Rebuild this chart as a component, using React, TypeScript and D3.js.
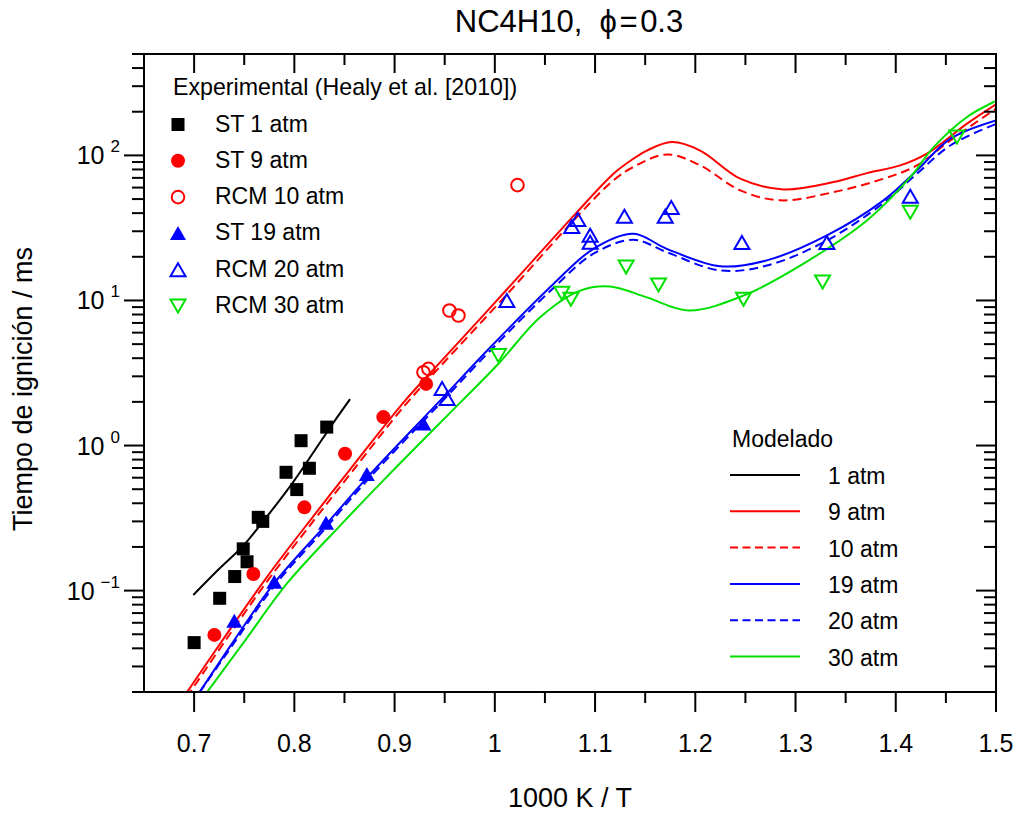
import React from 'react';
import * as d3 from 'd3';

// ---------- DATA ----------
const xTicks = [0.7, 0.8, 0.9, 1, 1.1, 1.2, 1.3, 1.4, 1.5];
const xTickLabels = ['0.7', '0.8', '0.9', '1', '1.1', '1.2', '1.3', '1.4', '1.5'];
const xMinorTicks = [0.75, 0.85, 0.95, 1.05, 1.15, 1.25, 1.35, 1.45];
const yMajorTicks = [0.1, 1, 10, 100];
const yTickExponents = ['−1', '0', '1', '2'];
const yMinorTicks = [
  0.02, 0.03, 0.04, 0.05, 0.06, 0.07, 0.08, 0.09,
  0.2, 0.3, 0.4, 0.5, 0.6, 0.7, 0.8, 0.9,
  2, 3, 4, 5, 6, 7, 8, 9,
  20, 30, 40, 50, 60, 70, 80, 90,
  200, 300, 400, 500,
];

// Experimental (Healy et al. 2010)
const st1X = [0.700, 0.7255, 0.7405, 0.7528, 0.749, 0.764, 0.7685, 0.7917, 0.8024, 0.8067, 0.815, 0.8323];
const st1Y = [0.0438, 0.0885, 0.125, 0.158, 0.194, 0.32, 0.30, 0.654, 0.497, 1.08, 0.697, 1.34];
const st9X = [0.7202, 0.7591, 0.81, 0.8506, 0.8888, 0.9314];
const st9Y = [0.0495, 0.130, 0.375, 0.877, 1.57, 2.66];
const rcm10X = [0.9288, 0.9337, 0.9547, 0.9637, 1.0226];
const rcm10Y = [3.20, 3.38, 8.53, 7.88, 62.4];
const st19X = [0.7401, 0.78, 0.8316, 0.8723, 0.9288];
const st19Y = [0.0614, 0.114, 0.291, 0.631, 1.41];
const rcm20X = [0.9474, 0.9524, 1.012, 1.0768, 1.0828, 1.0951, 1.0951, 1.1293, 1.17, 1.176, 1.2465, 1.3313, 1.4145];
const rcm20Y = [2.47, 2.11, 10.0, 32.4, 36.2, 28.1, 25.2, 38.0, 38.0, 43.8, 25.1, 25.1, 52.2];
const rcm30X = [1.0036, 1.0669, 1.0759, 1.131, 1.1633, 1.2481, 1.327, 1.4145, 1.461];
const rcm30Y = [4.18, 11.2, 10.2, 17.0, 12.8, 10.2, 13.4, 40.6, 134];

// Model curves
const m1X = [0.6992, 0.7258, 0.7491, 0.7658, 0.799, 0.8256, 0.8423, 0.8556];
const m1Y = [0.0933, 0.143, 0.204, 0.282, 0.562, 1.05, 1.55, 2.09];
const m9X = [0.6926, 0.7308, 0.7737, 0.8187, 0.8586, 0.9105, 0.9454, 1.012, 1.0818, 1.1184, 1.1383, 1.1517, 1.1766, 1.2049, 1.2448, 1.288, 1.3379, 1.3712, 1.4045, 1.4311, 1.4711, 1.5];
const m9Y = [0.0198, 0.0482, 0.127, 0.324, 0.728, 2.04, 3.74, 11.9, 40.5, 74.8, 94.9, 108, 123.5, 108, 69.1, 58.3, 65.5, 75.5, 85.3, 102.8, 165.5, 225];
const m10X = [0.6926, 0.7308, 0.7737, 0.8187, 0.8586, 0.9105, 0.9454, 1.012, 1.0851, 1.1184, 1.138, 1.1716, 1.2049, 1.2448, 1.2847, 1.3379, 1.3878, 1.4211, 1.4544, 1.5];
const m10Y = [0.0184, 0.0448, 0.118, 0.30, 0.675, 1.9, 3.5, 11.0, 39.8, 67.3, 83, 101.6, 85.3, 57.4, 49, 55.8, 69.1, 85.3, 127, 210];
const m19X = [0.7052, 0.7398, 0.7797, 0.8316, 0.8726, 0.9454, 0.9953, 1.0585, 1.0984, 1.1383, 1.1716, 1.2248, 1.2714, 1.3313, 1.3878, 1.4211, 1.4544, 1.5];
const m19Y = [0.0198, 0.0452, 0.112, 0.285, 0.601, 2.04, 4.74, 13.0, 22.7, 28.8, 22.7, 17.2, 18.9, 28.1, 49, 78.8, 130, 174];
const m20X = [0.7052, 0.7398, 0.7797, 0.8316, 0.8726, 0.9454, 0.9953, 1.0585, 1.0984, 1.1383, 1.1716, 1.2248, 1.2714, 1.3313, 1.3878, 1.4211, 1.4544, 1.5];
const m20Y = [0.0198, 0.0435, 0.107, 0.272, 0.575, 1.95, 4.5, 12.2, 21.0, 26.2, 21.5, 16.1, 17.4, 25.9, 47, 74.8, 117, 165];
const m30X = [0.7126, 0.7508, 0.7927, 0.8466, 0.8915, 0.9674, 1.0036, 1.0452, 1.0851, 1.1151, 1.1517, 1.1932, 1.2481, 1.3047, 1.3712, 1.4145, 1.4378, 1.4711, 1.4976, 1.5];
const m30Y = [0.0198, 0.0452, 0.112, 0.285, 0.601, 2.04, 3.66, 7.67, 11.7, 12.5, 10.5, 8.53, 10.8, 17.4, 35.6, 70.8, 114, 184, 233, 237];

const expLabels = ['ST 1 atm', 'ST 9 atm', 'RCM 10 atm', 'ST 19 atm', 'RCM 20 atm', 'RCM 30 atm'];
const modelLabels = ['1 atm', '9 atm', '10 atm', '19 atm', '20 atm', '30 atm'];

// ---------- LAYOUT ----------
const W = 1018;
const H = 814;
const L = 144, R = 996, T = 54, B = 692;
const FONT = '"Liberation Sans", Arial, Helvetica, sans-serif';

const RED = '#ff0000';
const BLUE = '#0000ff';
const GREEN = '#00e000';
const BLACK = '#000000';

const x = d3.scaleLinear().domain([0.65, 1.5]).range([L, R]);
const y = d3.scaleLog().domain([0.02, 500]).range([B, T]);

const lineGen = d3
  .line<[number, number]>()
  .x((d) => x(d[0]))
  .y((d) => y(d[1]))
  .curve(d3.curveCatmullRom.alpha(0.5));

const zip = (xs: number[], ys: number[]) => xs.map((v, i) => [v, ys[i]] as [number, number]);

type MarkerKind = 'square' | 'circle' | 'openCircle' | 'triUp' | 'openTriUp' | 'openTriDown';

function Marker({ kind, cx, cy, color }: { kind: MarkerKind; cx: number; cy: number; color: string }) {
  const tw = 15, th = 13;
  switch (kind) {
    case 'square':
      return <rect x={cx - 6.5} y={cy - 6.5} width={13} height={13} fill={color} />;
    case 'circle':
      return <circle cx={cx} cy={cy} r={7} fill={color} />;
    case 'openCircle':
      return <circle cx={cx} cy={cy} r={6.3} fill="none" stroke={color} strokeWidth={2} />;
    case 'triUp':
      return (
        <path
          d={`M${cx},${cy - th / 2 - 1}L${cx + tw / 2 + 0.5},${cy + th / 2}L${cx - tw / 2 - 0.5},${cy + th / 2}Z`}
          fill={color}
        />
      );
    case 'openTriUp':
      return (
        <path
          d={`M${cx},${cy - th / 2}L${cx + tw / 2},${cy + th / 2}L${cx - tw / 2},${cy + th / 2}Z`}
          fill="none"
          stroke={color}
          strokeWidth={2}
        />
      );
    case 'openTriDown':
      return (
        <path
          d={`M${cx},${cy + th / 2}L${cx + tw / 2},${cy - th / 2}L${cx - tw / 2},${cy - th / 2}Z`}
          fill="none"
          stroke={color}
          strokeWidth={2}
        />
      );
  }
  return null;
}

const expSeries: { xs: number[]; ys: number[]; kind: MarkerKind; color: string }[] = [
  { xs: st1X, ys: st1Y, kind: 'square', color: BLACK },
  { xs: st9X, ys: st9Y, kind: 'circle', color: RED },
  { xs: rcm10X, ys: rcm10Y, kind: 'openCircle', color: RED },
  { xs: st19X, ys: st19Y, kind: 'triUp', color: BLUE },
  { xs: rcm20X, ys: rcm20Y, kind: 'openTriUp', color: BLUE },
  { xs: rcm30X, ys: rcm30Y, kind: 'openTriDown', color: GREEN },
];

const modelSeries: { xs: number[]; ys: number[]; color: string; dash?: string }[] = [
  { xs: m1X, ys: m1Y, color: BLACK },
  { xs: m9X, ys: m9Y, color: RED },
  { xs: m10X, ys: m10Y, color: RED, dash: '9,5' },
  { xs: m19X, ys: m19Y, color: BLUE },
  { xs: m20X, ys: m20Y, color: BLUE, dash: '9,5' },
  { xs: m30X, ys: m30Y, color: GREEN },
];

export default function App() {
  return (
    <svg
      width={W}
      height={H}
      viewBox={`0 0 ${W} ${H}`}
      style={{ position: 'absolute', left: 0, top: 0, display: 'block', background: '#fff' }}
      fontFamily={FONT}
    >
      <defs>
        <clipPath id="plotClip">
          <rect x={L} y={T} width={R - L} height={B - T} />
        </clipPath>
      </defs>
      <rect x={0} y={0} width={W} height={H} fill="#fff" />

      {/* Title */}
      <text x={569} y={32} fontSize={31} textAnchor="middle" style={{ whiteSpace: 'pre' }}>
        {'NC4H10,  ϕ\u200A=\u200A0.3'}
      </text>

      {/* model curves */}
      <g clipPath="url(#plotClip)">
        {modelSeries.map((s, i) => (
          <path
            key={i}
            d={lineGen(zip(s.xs, s.ys)) || ''}
            fill="none"
            stroke={s.color}
            strokeWidth={2}
            strokeDasharray={s.dash}
          />
        ))}
      </g>

      {/* experimental markers */}
      <g>
        {expSeries.map((s, i) =>
          s.xs.map((v, j) => <Marker key={`${i}-${j}`} kind={s.kind} cx={x(v)} cy={y(s.ys[j])} color={s.color} />)
        )}
      </g>

      {/* axes frame */}
      <g stroke="#000" strokeWidth={2} fill="none">
        <line x1={L} y1={B} x2={R + 1} y2={B} />
        <line x1={L} y1={T} x2={R + 1} y2={T} />
        <line x1={L} y1={T} x2={L} y2={B + 1} />
        <line x1={R} y1={T} x2={R} y2={B + 1} />
        {xTicks.map((t, i) => (
          <g key={`xt${i}`}>
            <line x1={x(t)} y1={B} x2={x(t)} y2={B + 20} />
            <line x1={x(t)} y1={T} x2={x(t)} y2={T + 19} />
          </g>
        ))}
        {xMinorTicks.map((t, i) => (
          <g key={`xm${i}`}>
            <line x1={x(t)} y1={B} x2={x(t)} y2={B + 11} />
            <line x1={x(t)} y1={T} x2={x(t)} y2={T + 11} />
          </g>
        ))}
        {yMajorTicks.map((t, i) => (
          <g key={`yt${i}`}>
            <line x1={L - 20} y1={y(t)} x2={L} y2={y(t)} />
            <line x1={R - 20} y1={y(t)} x2={R} y2={y(t)} />
          </g>
        ))}
        {yMinorTicks.map((t, i) => (
          <g key={`ym${i}`}>
            <line x1={L - 12} y1={y(t)} x2={L} y2={y(t)} />
            <line x1={R - 12} y1={y(t)} x2={R} y2={y(t)} />
          </g>
        ))}
      </g>

      {/* x tick labels */}
      {xTicks.map((t, i) => (
        <text key={`xl${i}`} x={x(t)} y={752} fontSize={25} textAnchor="middle">
          {xTickLabels[i]}
        </text>
      ))}
      {/* y tick labels */}
      {yMajorTicks.map((t, i) => (
        <text key={`yl${i}`} x={120} y={y(t) + 9} fontSize={25} textAnchor="end">
          <tspan>10</tspan>
          <tspan dx={6} dy={-12} fontSize={17}>
            {yTickExponents[i]}
          </tspan>
        </text>
      ))}

      {/* axis titles */}
      <text x={570} y={807} fontSize={27} textAnchor="middle">
        1000 K / T
      </text>
      <text transform="translate(32,389) rotate(-90)" fontSize={27} textAnchor="middle">
        Tiempo de ignición / ms
      </text>

      {/* legend: experimental */}
      <text x={173} y={95} fontSize={23.2}>
        Experimental (Healy et al. [2010])
      </text>
      {expSeries.map((s, i) => {
        const by = 131.5 + 36.3 * i;
        return (
          <g key={`le${i}`}>
            <Marker kind={s.kind} cx={178} cy={by - 7} color={s.color} />
            <text x={215} y={by} fontSize={23}>
              {expLabels[i]}
            </text>
          </g>
        );
      })}

      {/* legend: model */}
      <text x={732} y={447} fontSize={23}>
        Modelado
      </text>
      {modelSeries.map((s, i) => {
        const by = 484 + 36.3 * i;
        return (
          <g key={`lm${i}`}>
            <line x1={730} y1={by - 9} x2={800} y2={by - 9} stroke={s.color} strokeWidth={2} strokeDasharray={s.dash ? '8,4.5' : undefined} />
            <text x={828} y={by} fontSize={23}>
              {modelLabels[i]}
            </text>
          </g>
        );
      })}
    </svg>
  );
}
